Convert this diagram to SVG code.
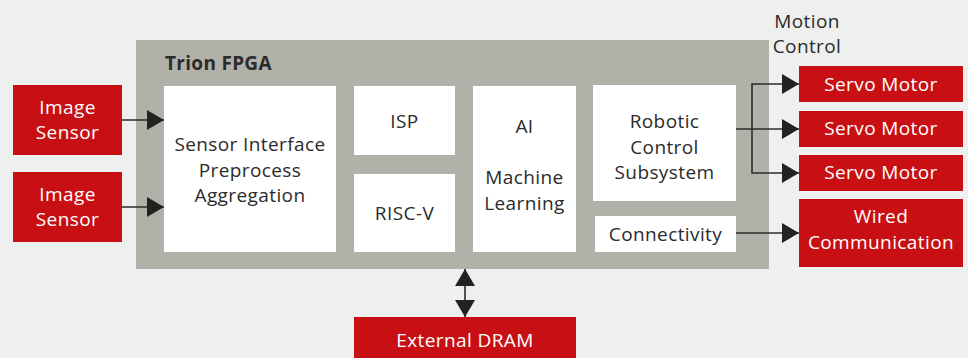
<svg xmlns="http://www.w3.org/2000/svg" width="968" height="358" viewBox="0 0 968 358">
<defs>
<style>
text{font-family:"Open Sans","Liberation Sans",sans-serif;font-size:19px;text-anchor:middle;letter-spacing:0.4px}
.w{fill:#ffffff}
.d{fill:#2b2b2b}
.red{fill:#c81014}
.box{fill:#ffffff}
.ln{stroke:#2b2b2b;stroke-width:1.6;fill:none}
</style>
<marker id="ah" viewBox="0 0 17 20" refX="17" refY="10" markerWidth="17" markerHeight="20" markerUnits="userSpaceOnUse" orient="auto-start-reverse">
<path d="M0,0 L17,10 L0,20 Z" fill="#222"/>
</marker>
</defs>
<rect x="0" y="0" width="968" height="358" fill="#eef0ef"/>
<g id="fpga">
<rect x="136" y="40" width="633" height="229" fill="#b1b1a9"/>
<text x="165" y="70" class="d" style="text-anchor:start;font-weight:bold;font-size:19px;letter-spacing:0.3px">Trion FPGA</text>
</g>
<g id="sensor1">
<rect x="13" y="85" width="109" height="70" class="red"/>
<text x="67.5" y="114" class="w">Image</text>
<text x="67.5" y="139" class="w">Sensor</text>
</g>
<g id="sensor2">
<rect x="13" y="172" width="109" height="70" class="red"/>
<text x="67.5" y="201" class="w">Image</text>
<text x="67.5" y="226" class="w">Sensor</text>
</g>
<g id="sif">
<rect x="164" y="86" width="172" height="166" class="box"/>
<text x="250" y="151" class="d">Sensor Interface</text>
<text x="250" y="177" class="d">Preprocess</text>
<text x="250" y="202" class="d">Aggregation</text>
</g>
<g id="isp">
<rect x="354" y="86" width="101" height="69" class="box"/>
<text x="404.5" y="128" class="d">ISP</text>
</g>
<g id="riscv">
<rect x="354" y="174" width="101" height="78" class="box"/>
<text x="404.5" y="220" class="d">RISC-V</text>
</g>
<g id="ai">
<rect x="473" y="86" width="103" height="166" class="box"/>
<text x="524.5" y="133" class="d">AI</text>
<text x="524.5" y="184" class="d">Machine</text>
<text x="524.5" y="210" class="d">Learning</text>
</g>
<g id="robotic">
<rect x="593" y="85" width="143" height="116" class="box"/>
<text x="664.5" y="128" class="d">Robotic</text>
<text x="664.5" y="154" class="d">Control</text>
<text x="664.5" y="179" class="d">Subsystem</text>
</g>
<g id="connectivity">
<rect x="595" y="216" width="141" height="36" class="box"/>
<text x="665.5" y="241" class="d">Connectivity</text>
</g>
<g id="motionlabel">
<text x="807" y="28" class="d">Motion</text>
<text x="807" y="53" class="d">Control</text>
</g>
<g id="servo1">
<rect x="799" y="66" width="164" height="36" class="red"/>
<text x="881" y="91" class="w">Servo Motor</text>
</g>
<g id="servo2">
<rect x="799" y="111" width="164" height="36" class="red"/>
<text x="881" y="135" class="w">Servo Motor</text>
</g>
<g id="servo3">
<rect x="799" y="155" width="164" height="36" class="red"/>
<text x="881" y="179" class="w">Servo Motor</text>
</g>
<g id="wired">
<rect x="799" y="199" width="164" height="68" class="red"/>
<text x="881" y="223" class="w">Wired</text>
<text x="881" y="249" class="w">Communication</text>
</g>
<g id="dram">
<rect x="354" y="317" width="222" height="45" class="red"/>
<text x="465" y="347" class="w">External DRAM</text>
</g>
<g id="connectors">
<line x1="122" y1="120" x2="164" y2="120" class="ln" marker-end="url(#ah)"/>
<line x1="122" y1="207" x2="164" y2="207" class="ln" marker-end="url(#ah)"/>
<line x1="736" y1="129" x2="799" y2="129" class="ln" marker-end="url(#ah)"/>
<polyline points="799,84 752,84 752,173 799,173" class="ln" marker-start="url(#ah)" marker-end="url(#ah)"/>
<line x1="736" y1="233" x2="799" y2="233" class="ln" marker-end="url(#ah)"/>
<line x1="465" y1="269" x2="465" y2="317" class="ln" marker-start="url(#ah)" marker-end="url(#ah)"/>
</g>
</svg>
